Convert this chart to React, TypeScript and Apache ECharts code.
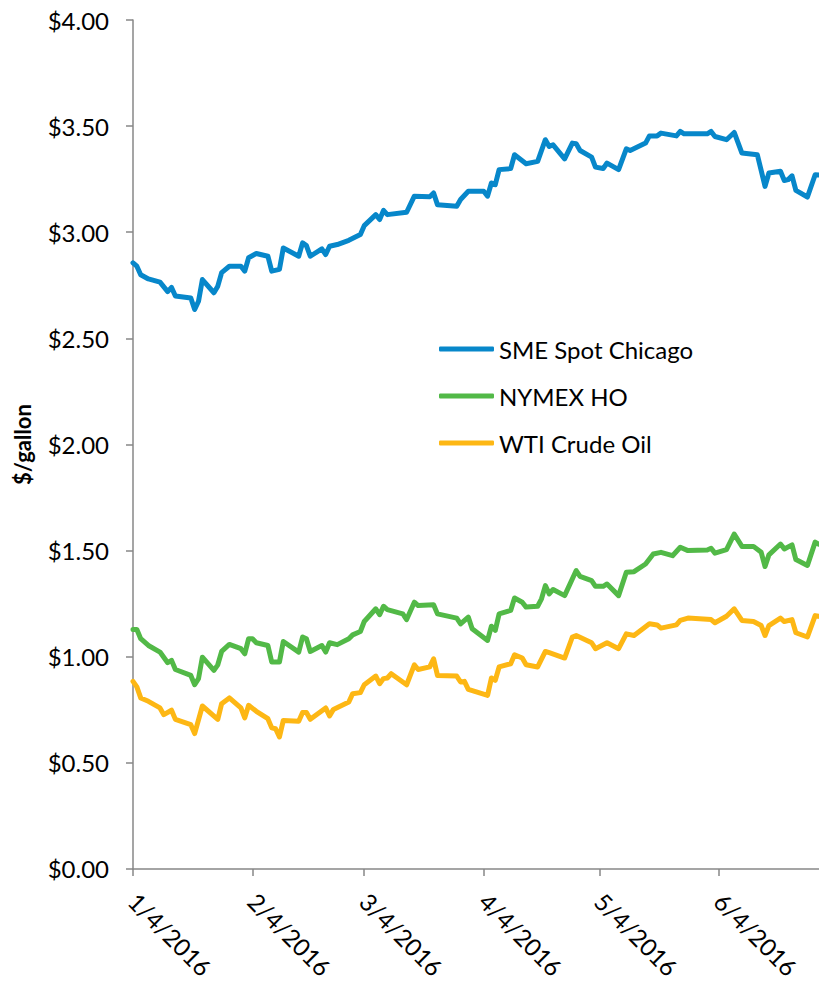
import React, { useEffect, useRef } from "react";
import * as echarts from "echarts";

const tickDates = ["01-04", "02-04", "03-04", "04-04", "05-04", "06-04"];
const axisStart = "01-04";
const axisEnd = "06-30";

const smeDates = ["01-04","01-05","01-06","01-08","01-11","01-13","01-14","01-15","01-19","01-20","01-21","01-22","01-25","01-26","01-27","01-29","02-01","02-02","02-03","02-05","02-08","02-09","02-11","02-12","02-16","02-17","02-18","02-19","02-22","02-23","02-24","02-26","02-29","03-03","03-04","03-07","03-08","03-09","03-10","03-15","03-17","03-21","03-22","03-23","03-28","03-29","03-31","04-01","04-04","04-05","04-06","04-07","04-08","04-11","04-12","04-15","04-18","04-20","04-21","04-22","04-25","04-27","04-28","04-29","05-02","05-03","05-05","05-06","05-09","05-11","05-12","05-16","05-17","05-19","05-20","05-24","05-25","05-26","06-01","06-02","06-03","06-06","06-08","06-10","06-14","06-16","06-17","06-20","06-21","06-22","06-23","06-24","06-27","06-29","06-30"];
const smeValues = [2.856,2.84,2.80,2.78,2.765,2.72,2.74,2.70,2.69,2.636,2.675,2.777,2.715,2.746,2.81,2.84,2.84,2.817,2.88,2.90,2.887,2.817,2.825,2.926,2.887,2.95,2.937,2.887,2.922,2.895,2.934,2.942,2.962,2.989,3.031,3.083,3.06,3.103,3.083,3.094,3.17,3.167,3.185,3.13,3.122,3.154,3.193,3.193,3.193,3.17,3.232,3.224,3.295,3.30,3.365,3.323,3.334,3.436,3.404,3.412,3.346,3.42,3.417,3.385,3.354,3.307,3.30,3.326,3.295,3.393,3.385,3.42,3.454,3.454,3.467,3.454,3.475,3.464,3.464,3.475,3.451,3.436,3.47,3.373,3.365,3.216,3.279,3.287,3.244,3.248,3.266,3.197,3.166,3.271,3.27];

const hoDates = ["01-04","01-05","01-06","01-08","01-11","01-13","01-14","01-15","01-19","01-20","01-21","01-22","01-25","01-26","01-27","01-29","02-01","02-02","02-03","02-04","02-05","02-08","02-09","02-11","02-12","02-16","02-17","02-18","02-19","02-22","02-23","02-24","02-26","02-29","03-01","03-03","03-04","03-07","03-08","03-09","03-10","03-14","03-15","03-17","03-18","03-22","03-23","03-28","03-29","03-31","04-01","04-05","04-06","04-07","04-08","04-11","04-12","04-14","04-15","04-18","04-19","04-20","04-21","04-22","04-25","04-28","04-29","05-02","05-03","05-05","05-06","05-09","05-11","05-13","05-16","05-18","05-20","05-23","05-25","05-27","06-01","06-02","06-03","06-06","06-08","06-10","06-13","06-15","06-16","06-17","06-20","06-21","06-23","06-24","06-27","06-29","06-30"];
const hoValues = [1.128,1.128,1.085,1.053,1.022,0.972,0.983,0.94,0.912,0.868,0.897,0.998,0.936,0.962,1.025,1.058,1.038,1.014,1.085,1.085,1.066,1.053,0.975,0.975,1.072,1.022,1.093,1.085,1.025,1.053,1.022,1.066,1.057,1.085,1.103,1.119,1.166,1.226,1.198,1.238,1.222,1.202,1.175,1.257,1.241,1.245,1.202,1.182,1.155,1.187,1.132,1.077,1.144,1.124,1.202,1.218,1.277,1.257,1.234,1.238,1.273,1.335,1.296,1.317,1.288,1.406,1.379,1.359,1.332,1.332,1.343,1.288,1.398,1.401,1.437,1.484,1.492,1.476,1.516,1.50,1.503,1.511,1.488,1.505,1.578,1.52,1.52,1.492,1.425,1.48,1.531,1.508,1.527,1.458,1.43,1.54,1.53];

const wtiDates = ["01-04","01-05","01-06","01-08","01-11","01-12","01-14","01-15","01-19","01-20","01-22","01-26","01-27","01-29","02-01","02-02","02-03","02-05","02-08","02-09","02-10","02-11","02-12","02-16","02-17","02-18","02-19","02-23","02-24","02-25","02-29","03-01","03-03","03-04","03-07","03-08","03-09","03-10","03-11","03-15","03-17","03-18","03-21","03-22","03-23","03-28","03-29","03-30","03-31","04-05","04-06","04-07","04-08","04-11","04-12","04-14","04-15","04-18","04-20","04-21","04-25","04-27","04-28","05-02","05-03","05-06","05-09","05-11","05-13","05-17","05-19","05-20","05-24","05-25","05-27","06-02","06-03","06-06","06-08","06-10","06-13","06-15","06-16","06-17","06-20","06-21","06-23","06-24","06-27","06-29","06-30"];
const wtiValues = [0.884,0.858,0.806,0.79,0.759,0.727,0.748,0.705,0.68,0.638,0.768,0.705,0.779,0.806,0.759,0.712,0.771,0.743,0.708,0.665,0.661,0.622,0.70,0.696,0.737,0.737,0.705,0.759,0.721,0.752,0.787,0.826,0.831,0.868,0.909,0.873,0.897,0.90,0.92,0.868,0.962,0.94,0.952,0.99,0.912,0.909,0.881,0.884,0.846,0.818,0.90,0.889,0.952,0.967,1.009,0.994,0.962,0.952,1.025,1.019,0.994,1.093,1.10,1.066,1.038,1.066,1.038,1.108,1.10,1.155,1.15,1.135,1.15,1.171,1.182,1.175,1.16,1.191,1.226,1.171,1.166,1.147,1.10,1.147,1.182,1.166,1.175,1.113,1.093,1.194,1.19];

const seriesNames = ["SME Spot Chicago", "NYMEX HO", "WTI Crude Oil"];
const seriesColors = ["#0787CA", "#52B947", "#FDB714"];

const FONT = "Lato, 'Open Sans', sans-serif";

function ts(md: string): number {
  const [m, d] = md.split("-").map(Number);
  return Date.UTC(2016, m - 1, d);
}

function pairs(dates: string[], values: number[]) {
  return dates.map((d, i) => [ts(d), values[i]]);
}

export default function App() {
  const ref = useRef<HTMLDivElement>(null);
  useEffect(() => {
    if (!ref.current) return;
    const chart = echarts.init(ref.current, undefined, { renderer: "svg" });
    const all = [
      pairs(smeDates, smeValues),
      pairs(hoDates, hoValues),
      pairs(wtiDates, wtiValues),
    ];
    chart.setOption({
      animation: false,
      backgroundColor: "#ffffff",
      grid: { left: 133, top: 20, right: 0, bottom: 111, containLabel: false },
      legend: {
        orient: "vertical",
        left: 434,
        top: 332,
        itemWidth: 55,
        itemHeight: 5,
        itemGap: 23,
        icon: "roundRect",
        data: seriesNames,
        textStyle: { fontFamily: FONT, fontSize: 24, color: "#000" },
      },
      xAxis: {
        type: "value",
        min: ts(axisStart),
        max: ts(axisEnd),
        splitLine: { show: false },
        axisLine: { show: true, onZero: false, lineStyle: { color: "#878787", width: 1.5 } },
        axisTick: {
          show: true,
          length: 7,
          customValues: tickDates.map(ts),
          lineStyle: { color: "#878787", width: 1.5 },
        },
        axisLabel: {
          customValues: tickDates.map(ts),
          rotate: -45,
          margin: 28,
          fontFamily: FONT,
          fontSize: 24,
          color: "#000",
          formatter: (v: number) => {
            const dt = new Date(v);
            return `${dt.getUTCMonth() + 1}/${dt.getUTCDate()}/${dt.getUTCFullYear()}`;
          },
        },
      },
      yAxis: {
        type: "value",
        min: 0,
        max: 4,
        interval: 0.5,
        name: "$/gallon",
        nameLocation: "middle",
        nameRotate: 90,
        nameGap: 100,
        nameTextStyle: { fontFamily: FONT, fontSize: 22, fontWeight: "bold", color: "#000" },
        splitLine: { show: false },
        axisLine: { show: true, lineStyle: { color: "#878787", width: 1.5 } },
        axisTick: { show: true, length: 7, lineStyle: { color: "#878787", width: 1.5 } },
        axisLabel: {
          margin: 24,
          fontFamily: FONT,
          fontSize: 24,
          color: "#000",
          formatter: (v: number) => "$" + v.toFixed(2),
        },
      },
      series: seriesNames.map((name, i) => ({
        name,
        type: "line",
        data: all[i],
        showSymbol: false,
        symbol: "none",
        color: seriesColors[i],
        lineStyle: { width: 5, color: seriesColors[i], join: "round", cap: "round" },
      })),
    });
    return () => chart.dispose();
  }, []);
  return (
    <div
      ref={ref}
      style={{ position: "fixed", left: 0, top: 0, width: 819, height: 982 }}
    />
  );
}
